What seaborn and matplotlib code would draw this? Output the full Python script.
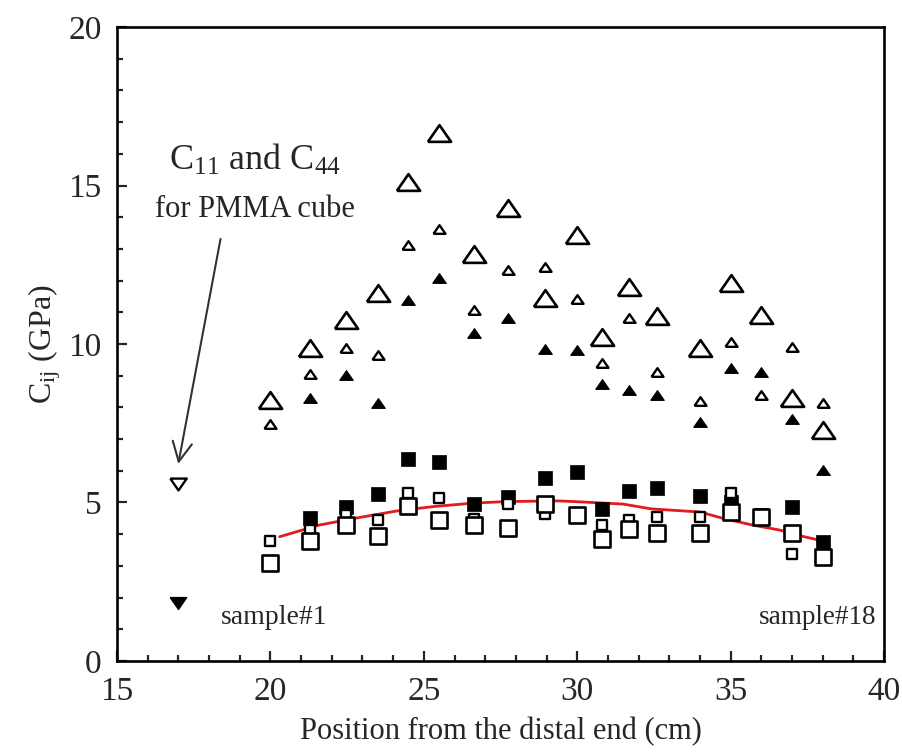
import numpy as np
import pandas as pd
import matplotlib
matplotlib.use("Agg")
import matplotlib.pyplot as plt
from matplotlib.ticker import MultipleLocator
import seaborn as sns

# sample positions along the bone (cm)
position = [20.0, 21.3, 22.45, 23.5, 24.5, 25.5, 26.65, 27.75, 28.95,
            30.0, 30.8, 31.7, 32.6, 34.0, 35.0, 36.0, 37.0, 38.0]

# stiffness constants (GPa)
tri_large_open = [8.23, 9.87, 10.76, 11.6, 15.1, 16.66, 12.84, 14.29, 11.45,
                  13.44, 10.22, 11.8, 10.88, 9.87, 11.92, 10.91, 8.3, 7.29]
tri_small_open = [7.48, 9.05, 9.87, 9.65, 13.12, 13.63, 11.07, 12.33, 12.43,
                  11.42, 9.4, 10.82, 9.12, 8.2, 10.06, 8.39, 9.91, 8.14]
tri_filled = [np.nan, 8.3, 9.02, 8.14, 11.39, 12.08, 10.35, 10.82, 9.84,
              9.81, 8.74, 8.55, 8.39, 7.54, 9.24, 9.12, 7.63, 6.03]
sq_filled = [np.nan, 4.52, 4.87, 5.27, 6.37, 6.29, 4.95, 5.18, 5.77,
             5.97, 4.8, 5.37, 5.46, 5.2, 5.0, 4.6, 4.87, 3.76]
sq_small_open = [3.79, 4.12, 4.6, 4.45, 5.29, 5.14, 4.48, 4.95, 4.64,
                 4.65, 4.29, 4.45, 4.55, 4.54, 5.3, 4.55, 3.37, 3.35]
sq_large_open = [3.09, 3.78, 4.29, 3.94, 4.9, 4.45, 4.29, 4.19, 4.95,
                 4.6, 3.85, 4.16, 4.04, 4.04, 4.71, 4.54, 4.04, 3.29]

# smooth trend (red)
trend_x = [20.3, 21.6, 22.8, 24.1, 25.3, 26.6, 27.7, 29.4, 30.1, 31.5,
           32.4, 34.0, 34.75, 35.7, 36.6, 37.4, 37.85]
trend_y = [3.92, 4.29, 4.51, 4.73, 4.87, 4.98, 5.03, 5.05, 5.02, 4.95,
           4.8, 4.7, 4.5, 4.29, 4.13, 3.92, 3.82]

# PMMA reference cube
pmma_x = [17.0]
pmma_c11 = [5.57]
pmma_c44 = [1.83]

df = pd.DataFrame({
    'pos': position,
    'tl': tri_large_open, 'ts': tri_small_open, 'tf': tri_filled,
    'sf': sq_filled, 'ss': sq_small_open, 'sl': sq_large_open,
})

sns.set_style("ticks")
plt.rcParams['font.family'] = ['Liberation Serif', 'DejaVu Serif']
plt.rcParams['mathtext.fontset'] = 'custom'
plt.rcParams['mathtext.rm'] = 'Liberation Serif'
plt.rcParams['mathtext.it'] = 'Liberation Serif'

up_tri = [(-1, -0.72), (1, -0.72), (0, 0.72), (-1, -0.72)]
down_tri = [(-1, 0.72), (1, 0.72), (0, -0.72), (-1, 0.72)]

fig = plt.figure(figsize=(9.03, 7.53), dpi=100)
ax = fig.add_axes([0.1296, 0.1222, 0.8494, 0.8419])

sns.lineplot(x=trend_x, y=trend_y, ax=ax, color='#e41a1c', lw=2, zorder=2)

sns.scatterplot(data=df, x='pos', y='sf', ax=ax, marker='s', s=110,
                color='black', edgecolor='black', linewidth=0.5, zorder=3)
sns.scatterplot(data=df, x='pos', y='ss', ax=ax, marker='s', s=50,
                facecolor='white', edgecolor='black', linewidth=1.7, zorder=4)
sns.scatterplot(data=df, x='pos', y='sl', ax=ax, marker='s', s=135,
                facecolor='white', edgecolor='black', linewidth=1.9, zorder=5)

sns.scatterplot(data=df, x='pos', y='tf', ax=ax, marker=up_tri, s=95,
                color='black', edgecolor='black', linewidth=0.8, zorder=3)
sns.scatterplot(data=df, x='pos', y='ts', ax=ax, marker=up_tri, s=75,
                facecolor='white', edgecolor='black', linewidth=1.7, zorder=4)
sns.scatterplot(data=df, x='pos', y='tl', ax=ax, marker=up_tri, s=280,
                facecolor='white', edgecolor='black', linewidth=1.9, zorder=5)

sns.scatterplot(x=pmma_x, y=pmma_c11, ax=ax, marker=down_tri, s=140,
                facecolor='white', edgecolor='black', linewidth=1.7, zorder=5)
sns.scatterplot(x=pmma_x, y=pmma_c44, ax=ax, marker=down_tri, s=140,
                color='black', edgecolor='black', linewidth=1, zorder=5)

ax.set_xlim(15, 40)
ax.set_ylim(0, 20)
ax.xaxis.set_major_locator(MultipleLocator(5))
ax.xaxis.set_minor_locator(MultipleLocator(1))
ax.yaxis.set_major_locator(MultipleLocator(5))
ax.yaxis.set_minor_locator(MultipleLocator(1))
ax.tick_params(which='both', direction='in', top=False, right=False,
               width=1.6, labelsize=24, pad=11)
ax.tick_params(which='major', length=7)
ax.tick_params(which='minor', length=4)
for sp in ax.spines.values():
    sp.set_linewidth(1.9)
    sp.set_color('black')

ax.set_xlabel('Position from the distal end (cm)', fontsize=22, labelpad=7)
ax.set_ylabel('C$_{\\mathrm{ij}}$ (GPa)', fontsize=23, labelpad=4)

ax.text(18.4, 1.36, 'sample#1', fontsize=20, ha='left', va='center')
ax.text(39.75, 1.36, 'sample#18', fontsize=19.5, ha='right', va='center')

ax.text(19.5, 15.8, 'C$_{11}$ and C$_{44}$', fontsize=26,
        ha='center', va='center')
ax.text(19.5, 14.25, 'for PMMA cube', fontsize=22,
        ha='center', va='center')
ax.annotate('', xy=(16.98, 6.13), xytext=(18.39, 13.4),
            arrowprops=dict(arrowstyle='->', color='#333333', lw=1.5,
                            mutation_scale=35))

fig.savefig('out.png', dpi=100)
